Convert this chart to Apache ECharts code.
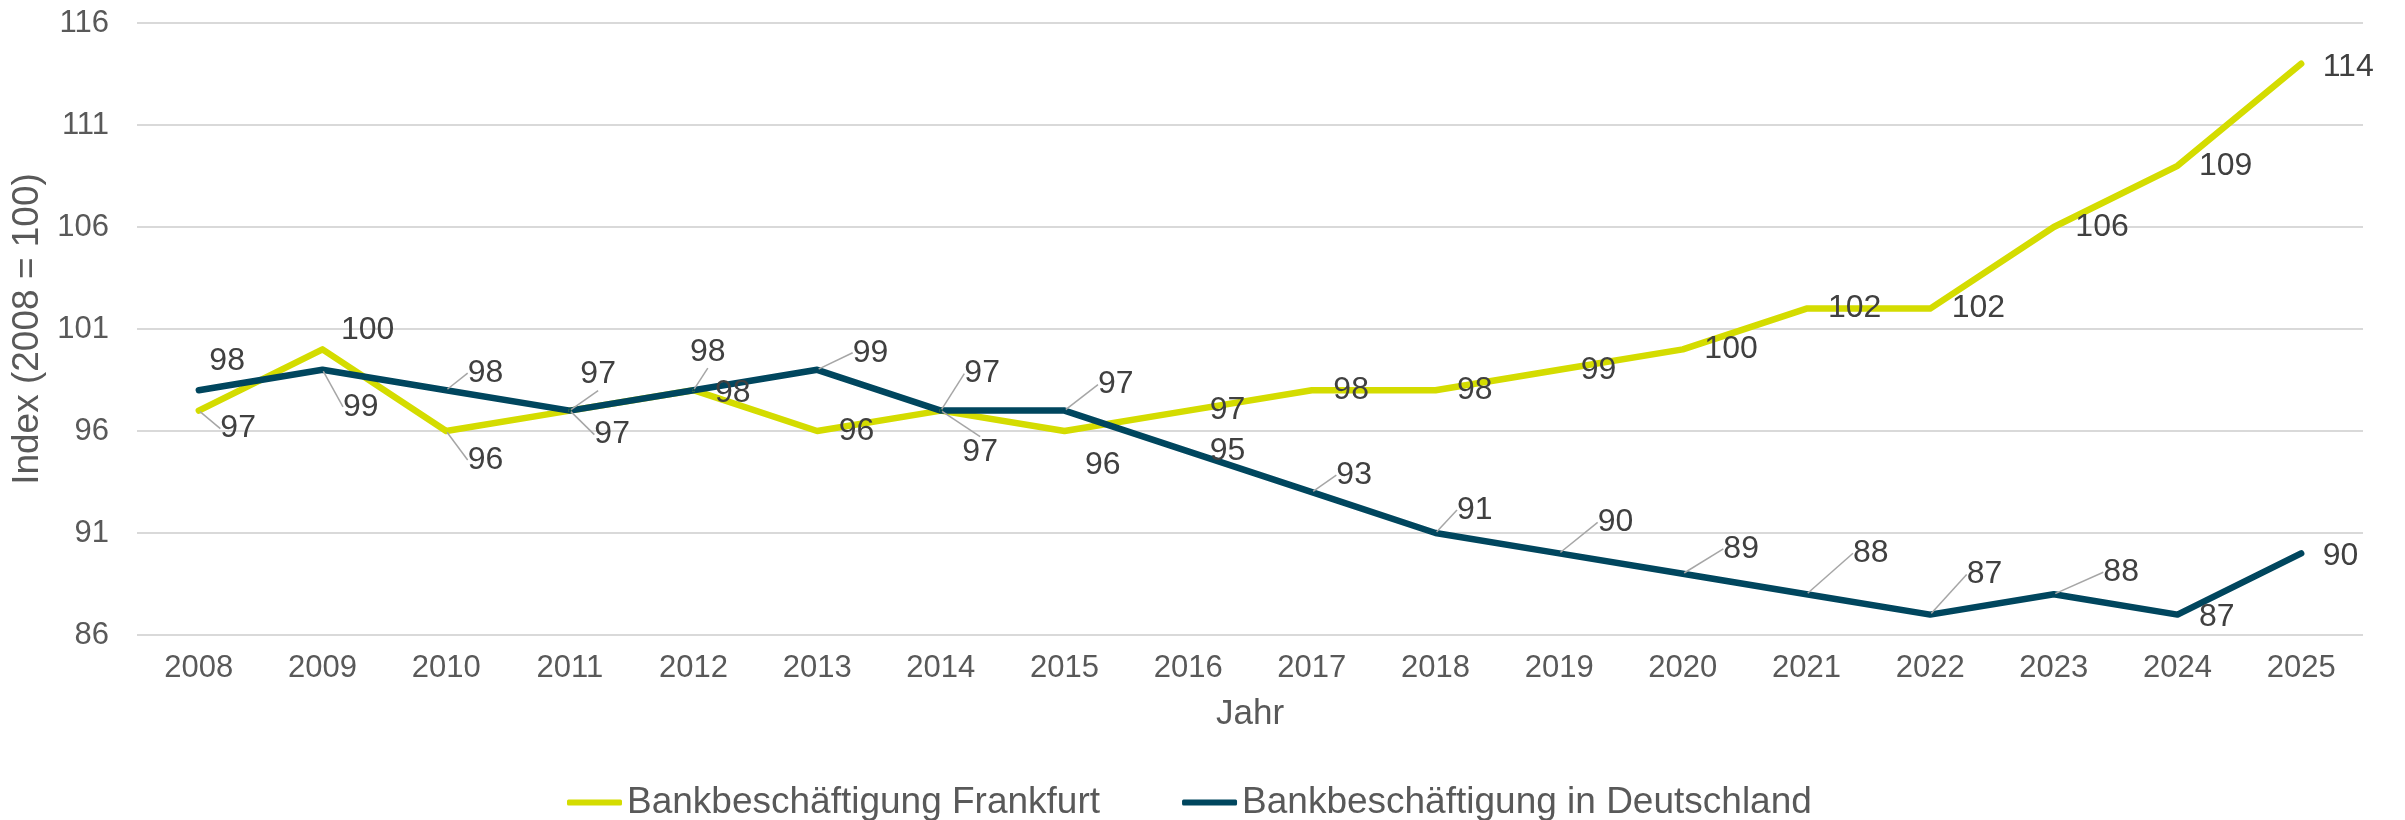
<!DOCTYPE html>
<html>
<head>
<meta charset="utf-8">
<script src="https://cdn.jsdelivr.net/npm/echarts@6/dist/echarts.min.js"></script>
<style>
  html, body { margin: 0; padding: 0; background: #fff; }
  #mainChart { width: 2405px; height: 820px; }
</style>
</head>
<body>
<div id="mainChart"></div>
<script>
// Daten
const years = ["2008", "2009", "2010", "2011", "2012", "2013", "2014", "2015", "2016",
  "2017", "2018", "2019", "2020", "2021", "2022", "2023", "2024", "2025"];
const frankfurt = [97, 100, 96, 97, 98, 96, 97, 96, 97, 98, 98, 99, 100, 102, 102, 106, 109, 114];
const deutschland = [98, 99, 98, 97, 98, 99, 97, 97, 95, 93, 91, 90, 89, 88, 87, 88, 87, 90];
const seriesNames = ["Bankbeschäftigung Frankfurt", "Bankbeschäftigung in Deutschland"];

// label offsets (px, relative to the default "right" label position), [dx, dy, leader]
const frankfurtLabelShift = {
  0: [0, 18, true],
  1: [-3, -19, false],
  2: [0, 29, true],
  3: [3, 24, true],
  4: [0, 3, false],
  6: [0, 42, true],
  7: [-1, 34, false],
  17: [0, 3, false],
};
const deutschlandLabelShift = {
  0: [-11, -29, false],
  1: [-1, 37, true],
  2: [0, -17, true],
  3: [-11, -36, true],
  4: [-25, -38, true],
  5: [14, -17, true],
  6: [2, -37, true],
  7: [12, -26, true],
  9: [3, -17, true],
  10: [0, -23, true],
  11: [17, -31, true],
  12: [19, -25, true],
  13: [25, -41, true],
  14: [15, -40, true],
  15: [28, -22, true],
  16: [0, 3, false],
  17: [0, 3, false],
};

const textFont = "Liberation Sans";

function buildData(values, shifts) {
  return values.map((v, i) => ({
    value: v,
    labelLine: { show: !!(shifts[i] && shifts[i][2]) },
  }));
}

function makeLayout(shifts) {
  return function (params) {
    const s = shifts[params.dataIndex];
    if (!s) return {};
    return { dx: s[0], dy: s[1] };
  };
}

function lineSeries(name, values, color, shifts) {
  return {
    name: name,
    type: "line",
    data: buildData(values, shifts),
    symbol: "circle",
    symbolSize: 3,
    showSymbol: true,
    itemStyle: { color: color },
    lineStyle: { color: color, width: 6.5, cap: "round", join: "round" },
    label: {
      show: true,
      position: "right",
      distance: 20,
      color: "#404040",
      fontFamily: textFont,
      fontSize: 32,
    },
    labelLine: {
      show: true,
      lineStyle: { color: "#a6a6a6", width: 1.5 },
    },
    labelLayout: makeLayout(shifts),
  };
}

const myChart = echarts.init(document.getElementById("mainChart"));
const option = {
  animation: false,
  backgroundColor: "#ffffff",
  textStyle: { fontFamily: textFont },
  grid: {
    left: 137,
    right: 42,
    top: 23,
    bottom: 185,
  },
  legend: {
    data: seriesNames,
    left: 562,
    top: 779,
    icon: "roundRect",
    itemWidth: 55,
    itemHeight: 6,
    itemGap: 82,
    textStyle: { color: "#595959", fontSize: 37, fontFamily: textFont },
  },
  xAxis: {
    type: "category",
    data: years,
    boundaryGap: true,
    name: "Jahr",
    nameLocation: "middle",
    nameGap: 62,
    nameTextStyle: { color: "#595959", fontSize: 35, fontFamily: textFont },
    axisLine: { show: false },
    axisTick: { show: false },
    axisLabel: { color: "#595959", fontSize: 31, margin: 18, fontFamily: textFont },
  },
  yAxis: {
    type: "value",
    min: 86,
    max: 116,
    interval: 5,
    name: "Index (2008 = 100)",
    nameLocation: "middle",
    nameRotate: 90,
    nameGap: 90,
    nameTextStyle: { color: "#595959", fontSize: 37, fontFamily: textFont },
    axisLine: { show: false },
    axisTick: { show: false },
    axisLabel: { color: "#595959", fontSize: 31, margin: 28, fontFamily: textFont },
    splitLine: { lineStyle: { color: "#d9d9d9", width: 2 } },
  },
  series: [
    lineSeries(seriesNames[0], frankfurt, "#d4dc00", frankfurtLabelShift),
    lineSeries(seriesNames[1], deutschland, "#00465e", deutschlandLabelShift),
  ],
};
myChart.setOption(option);
</script>
</body>
</html>
